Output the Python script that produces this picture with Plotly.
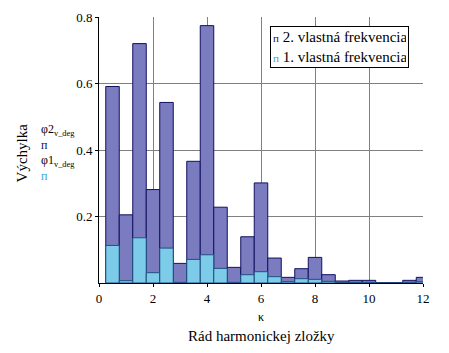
import plotly.graph_objects as go

k = [0.5 * i for i in range(1, 25)]
phi2 = [0.591, 0.205, 0.720, 0.281, 0.543, 0.059, 0.366, 0.774, 0.228, 0.047, 0.139, 0.301,
        0.075, 0.017, 0.043, 0.077, 0.025, 0.006, 0.008, 0.008, 0.001, 0.001, 0.008, 0.017]
phi1 = [0.113, 0.007, 0.136, 0.031, 0.105, 0.002, 0.071, 0.085, 0.044, 0.002, 0.025, 0.034,
        0.019, 0.004, 0.013, 0.011, 0.005, 0.001, 0.002, 0.002, 0.000, 0.000, 0.002, 0.004]
names = ["2. vlastná frekvencia", "1. vlastná frekvencia"]
xticks = [0, 2, 4, 6, 8, 10, 12]
yticks = [0.2, 0.4, 0.6, 0.8]

DARK = "#7b7bc0"
LIGHT = "#7ccbe8"
EDGE = "#101060"
SYM2 = "#101060"
SYM1 = "#3aa6cf"
FONT = "Liberation Serif, Times New Roman, serif"

px0, px1 = 99, 423
py0, py1 = 283, 10
def px(xp):
    return (xp - px0) / (px1 - px0)
def py(yp):
    return (py0 - yp) / (py0 - py1)

fig = go.Figure()
fig.add_trace(go.Bar(x=k, y=phi2, width=0.5, name=names[0],
                     marker=dict(color=DARK, line=dict(color=EDGE, width=1))))
fig.add_trace(go.Bar(x=k, y=phi1, width=0.5, name=names[1],
                     marker=dict(color=LIGHT, line=dict(color="#1f4f80", width=1))))

legend_text = (f"<span style='color:{SYM2};font-size:11px'>п</span> {names[0]}<br>"
               f"<span style='color:{SYM1};font-size:11px'>п</span> {names[1]}")

ylabel_text = (f"φ2<sub>v_deg</sub><br><span style='color:{SYM2}'>п</span><br>"
               f"φ1<sub>v_deg</sub><br><span style='color:{SYM1}'>п</span>")

anns = [
    dict(text="κ", x=0.5, y=py(318), xref="paper", yref="paper", showarrow=False,
         font=dict(family=FONT, size=12), xanchor="center", yanchor="middle"),
    dict(text="Rád harmonickej zložky", x=0.5, y=py(337), xref="paper", yref="paper",
         showarrow=False, font=dict(family=FONT, size=15), xanchor="center", yanchor="middle"),
    dict(text="Výchylka", x=px(22), y=py(150), xref="paper", yref="paper",
         showarrow=False, textangle=-90, font=dict(family=FONT, size=15),
         xanchor="center", yanchor="middle"),
    dict(text=ylabel_text, x=px(39), y=py(149), xref="paper", yref="paper",
         showarrow=False, align="left", font=dict(family=FONT, size=12),
         xanchor="left", yanchor="middle"),
    dict(text=legend_text, x=px(270), y=py(19), xref="paper", yref="paper",
         showarrow=False, align="left", xanchor="left", yanchor="top",
         font=dict(family=FONT, size=15), bgcolor="white", bordercolor="black",
         borderwidth=1, borderpad=2, width=133, height=36),
]

fig.update_layout(
    width=449, height=353,
    margin=dict(l=99, r=26, t=10, b=70),
    barmode="overlay",
    paper_bgcolor="white", plot_bgcolor="white",
    font=dict(family=FONT, size=13, color="black"),
    showlegend=False,
    xaxis=dict(range=[0, 12], tickvals=xticks, showgrid=True, gridcolor="#808080",
               gridwidth=1, showline=True, linecolor="black", linewidth=1,
               ticks="outside", ticklen=3, tickcolor="black", zeroline=False,
               tickfont=dict(family=FONT, size=13)),
    yaxis=dict(range=[0, 0.8], tickvals=yticks, ticktext=["0.2", "0.4", "0.6", "0.8"],
               showgrid=True, gridcolor="#808080", gridwidth=1,
               showline=True, linecolor="black", linewidth=1,
               ticks="outside", ticklen=3, tickcolor="black", zeroline=False,
               tickfont=dict(family=FONT, size=13)),
    annotations=anns,
)

fig.write_html("out.html")
